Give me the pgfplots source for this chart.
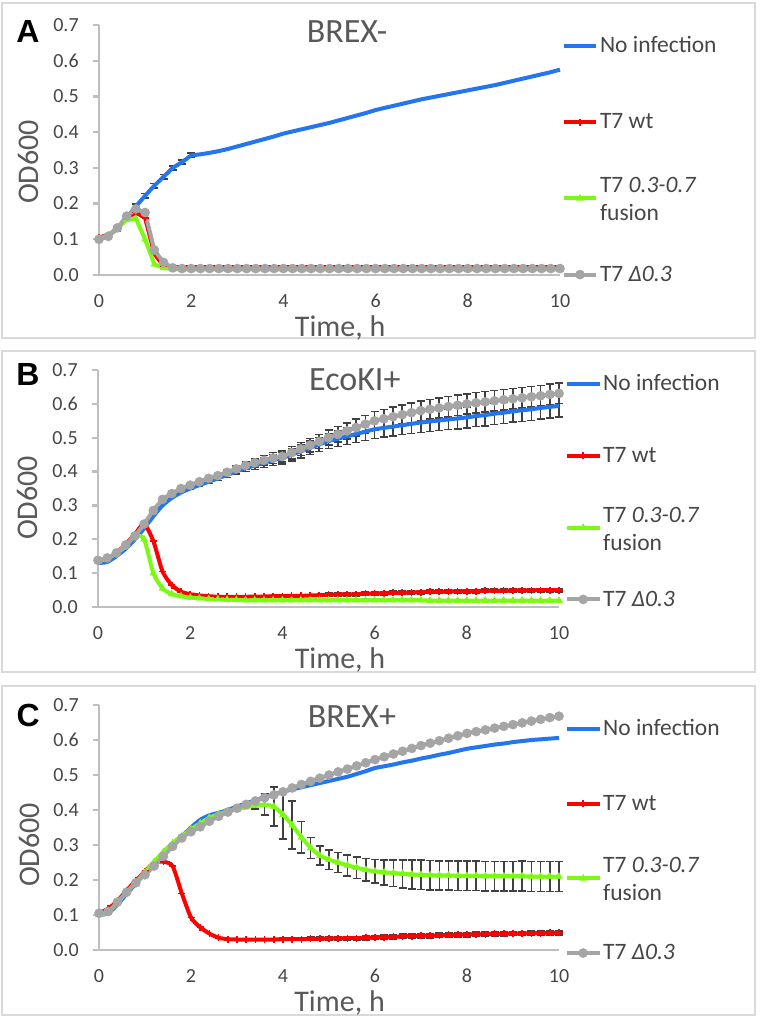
\documentclass[border=0pt]{standalone}
\usepackage{fontspec}
\setmainfont{Carlito}
\newfontfamily\arialfont{Liberation Sans}
\usepackage{pgfplots}
\pgfplotsset{compat=1.18}
\usepackage{pgfplotstable}

\definecolor{bluecol}{RGB}{36,118,240}
\definecolor{redcol}{RGB}{255,0,0}
\definecolor{greencol}{RGB}{125,250,20}
\definecolor{graycol}{RGB}{165,165,165}
\definecolor{errcol}{RGB}{64,64,64}
\definecolor{axisgray}{RGB}{191,191,191}
\definecolor{bordercol}{RGB}{217,217,217}
\definecolor{tickcol}{RGB}{70,70,70}
\definecolor{labcol}{RGB}{89,89,89}

\newcommand{\lgt}[1]{\raisebox{0pt}[15pt][0pt]{#1}}
\newcommand{\lgtwo}{\raisebox{-2.5pt}[15pt][0pt]{\begin{tabular}[c]{@{}l@{}}T7 \textit{0.3-0.7}\\fusion\end{tabular}}}
\tikzset{letter/.style={font=\arialfont\bfseries\fontsize{32pt}{38pt}\selectfont}}

% Panel A: t, blue, blue err, red, green, gray
\pgfplotstableread{
t b be r g k
0.0 0.100 0 0.105 0.100 0.100
0.2 0.110 0 0.112 0.112 0.108
0.4 0.130 0.006 0.130 0.130 0.132
0.6 0.160 0.006 0.160 0.155 0.165
0.8 0.192 0.006 0.175 0.158 0.185
1.0 0.222 0.006 0.160 0.100 0.175
1.2 0.250 0.006 0.060 0.030 0.070
1.4 0.275 0.006 0.025 0.020 0.035
1.6 0.300 0.006 0.022 0.017 0.020
1.8 0.316 0.006 0.022 0.016 0.018
2.0 0.335 0.006 0.022 0.016 0.018
2.2 0.338 0 0.022 0.016 0.018
2.4 0.342 0 0.022 0.016 0.018
2.6 0.347 0 0.022 0.016 0.018
2.8 0.353 0 0.022 0.016 0.018
3.0 0.360 0 0.022 0.016 0.018
3.2 0.367 0 0.022 0.016 0.018
3.4 0.374 0 0.022 0.016 0.018
3.6 0.381 0 0.022 0.016 0.018
3.8 0.388 0 0.022 0.016 0.018
4.0 0.396 0 0.022 0.016 0.018
4.2 0.402 0 0.022 0.016 0.018
4.4 0.408 0 0.022 0.016 0.018
4.6 0.414 0 0.022 0.016 0.018
4.8 0.420 0 0.022 0.016 0.018
5.0 0.426 0 0.022 0.016 0.018
5.2 0.433 0 0.022 0.016 0.018
5.4 0.440 0 0.022 0.016 0.018
5.6 0.447 0 0.022 0.016 0.018
5.8 0.454 0 0.022 0.016 0.018
6.0 0.462 0 0.022 0.016 0.018
6.2 0.468 0 0.022 0.016 0.018
6.4 0.474 0 0.022 0.016 0.018
6.6 0.480 0 0.022 0.016 0.018
6.8 0.486 0 0.022 0.016 0.018
7.0 0.492 0 0.022 0.016 0.018
7.2 0.497 0 0.022 0.016 0.018
7.4 0.502 0 0.022 0.016 0.018
7.6 0.507 0 0.022 0.016 0.018
7.8 0.512 0 0.022 0.016 0.018
8.0 0.517 0 0.022 0.016 0.018
8.2 0.522 0 0.022 0.016 0.018
8.4 0.527 0 0.022 0.016 0.018
8.6 0.532 0 0.022 0.016 0.018
8.8 0.538 0 0.022 0.016 0.018
9.0 0.544 0 0.022 0.016 0.018
9.2 0.550 0 0.022 0.016 0.018
9.4 0.556 0 0.022 0.016 0.018
9.6 0.562 0 0.022 0.016 0.018
9.8 0.568 0 0.022 0.016 0.018
10.0 0.575 0 0.022 0.016 0.018
}\dataA

% Panel B: t, blue, blue err, red, red err, green, gray, gray err
\pgfplotstableread{
t b be r re g k ke
0.0 0.130 0 0.135 0 0.135 0.138 0
0.2 0.133 0 0.143 0 0.143 0.145 0
0.4 0.150 0 0.160 0 0.158 0.160 0
0.6 0.172 0 0.185 0 0.180 0.183 0
0.8 0.200 0 0.215 0 0.210 0.210 0
1.0 0.232 0 0.245 0 0.200 0.245 0
1.2 0.268 0 0.195 0 0.100 0.285 0
1.4 0.300 0 0.105 0 0.055 0.318 0
1.6 0.322 0 0.065 0 0.038 0.335 0
1.8 0.338 0 0.045 0 0.032 0.350 0
2.0 0.350 0.003 0.038 0 0.028 0.360 0.003
2.2 0.360 0.004 0.034 0 0.026 0.370 0.004
2.4 0.370 0.005 0.032 0 0.024 0.380 0.005
2.6 0.380 0.006 0.030 0 0.023 0.388 0.006
2.8 0.390 0.007 0.030 0 0.022 0.398 0.007
3.0 0.400 0.008 0.030 0 0.021 0.408 0.008
3.2 0.410 0.010 0.030 0 0.020 0.418 0.010
3.4 0.418 0.012 0.031 0 0.020 0.426 0.012
3.6 0.426 0.014 0.031 0 0.020 0.433 0.014
3.8 0.434 0.016 0.032 0 0.020 0.440 0.016
4.0 0.440 0.017 0.032 0 0.020 0.445 0.017
4.2 0.450 0.018 0.033 0 0.020 0.456 0.018
4.4 0.460 0.019 0.033 0 0.020 0.467 0.019
4.6 0.470 0.020 0.034 0 0.020 0.478 0.020
4.8 0.480 0.021 0.035 0 0.020 0.489 0.021
5.0 0.490 0.022 0.036 0.005 0.020 0.500 0.022
5.2 0.497 0.023 0.037 0.005 0.020 0.510 0.023
5.4 0.504 0.024 0.037 0.005 0.020 0.520 0.024
5.6 0.511 0.025 0.038 0.005 0.020 0.530 0.025
5.8 0.518 0.026 0.039 0.005 0.020 0.540 0.026
6.0 0.525 0.027 0.040 0.005 0.020 0.550 0.027
6.2 0.529 0.027 0.041 0.005 0.020 0.556 0.027
6.4 0.533 0.028 0.042 0.005 0.020 0.562 0.028
6.6 0.537 0.028 0.042 0.005 0.020 0.568 0.028
6.8 0.541 0.029 0.043 0.005 0.020 0.574 0.029
7.0 0.545 0.029 0.044 0.005 0.020 0.580 0.029
7.2 0.548 0.030 0.045 0.005 0.019 0.584 0.029
7.4 0.551 0.030 0.045 0.005 0.019 0.588 0.029
7.6 0.554 0.030 0.046 0.005 0.019 0.592 0.030
7.8 0.557 0.031 0.046 0.005 0.019 0.596 0.030
8.0 0.560 0.031 0.047 0.005 0.019 0.600 0.030
8.2 0.564 0.031 0.047 0.005 0.019 0.603 0.030
8.4 0.567 0.032 0.048 0.005 0.019 0.606 0.030
8.6 0.571 0.032 0.048 0.005 0.019 0.609 0.030
8.8 0.574 0.032 0.048 0.005 0.019 0.612 0.030
9.0 0.578 0.032 0.049 0.005 0.019 0.615 0.030
9.2 0.581 0.033 0.049 0.005 0.019 0.618 0.030
9.4 0.584 0.033 0.049 0.005 0.019 0.621 0.030
9.6 0.588 0.033 0.050 0.005 0.019 0.624 0.030
9.8 0.591 0.033 0.050 0.005 0.019 0.628 0.030
10.0 0.594 0.033 0.050 0.005 0.019 0.631 0.030
}\dataB

% Panel C: t, blue, red, red err, green, green err, gray
\pgfplotstableread{
t b r re g ge k
0.0 0.100 0.105 0 0.100 0 0.105
0.2 0.105 0.118 0 0.108 0 0.110
0.4 0.130 0.140 0 0.135 0 0.137
0.6 0.160 0.170 0 0.165 0 0.165
0.8 0.190 0.198 0 0.193 0 0.192
1.0 0.220 0.225 0 0.222 0 0.215
1.2 0.250 0.250 0 0.252 0 0.240
1.4 0.280 0.252 0 0.280 0 0.268
1.6 0.305 0.240 0 0.305 0 0.296
1.8 0.325 0.162 0 0.325 0 0.320
2.0 0.350 0.093 0 0.345 0 0.338
2.2 0.372 0.065 0 0.362 0 0.352
2.4 0.385 0.047 0 0.378 0 0.368
2.6 0.392 0.035 0 0.388 0 0.382
2.8 0.400 0.031 0 0.396 0 0.394
3.0 0.410 0.030 0 0.402 0 0.405
3.2 0.419 0.030 0 0.408 0 0.416
3.4 0.428 0.030 0 0.413 0.010 0.426
3.6 0.437 0.030 0 0.415 0.030 0.435
3.8 0.445 0.030 0 0.410 0.055 0.443
4.0 0.452 0.031 0.004 0.387 0.070 0.452
4.2 0.459 0.031 0.004 0.357 0.068 0.463
4.4 0.465 0.031 0.004 0.322 0.045 0.473
4.6 0.471 0.032 0.005 0.292 0.030 0.482
4.8 0.477 0.032 0.005 0.270 0.027 0.491
5.0 0.483 0.033 0.005 0.258 0.028 0.500
5.2 0.489 0.033 0.005 0.250 0.029 0.509
5.4 0.495 0.034 0.005 0.242 0.030 0.517
5.6 0.503 0.034 0.005 0.235 0.031 0.526
5.8 0.511 0.035 0.006 0.229 0.032 0.535
6.0 0.520 0.036 0.006 0.225 0.034 0.544
6.2 0.525 0.037 0.006 0.222 0.036 0.552
6.4 0.530 0.038 0.006 0.220 0.038 0.560
6.6 0.536 0.039 0.006 0.218 0.040 0.568
6.8 0.541 0.040 0.006 0.216 0.041 0.576
7.0 0.547 0.041 0.006 0.215 0.042 0.584
7.2 0.552 0.041 0.006 0.214 0.042 0.591
7.4 0.558 0.042 0.006 0.213 0.042 0.598
7.6 0.563 0.043 0.006 0.213 0.042 0.605
7.8 0.569 0.044 0.006 0.212 0.042 0.612
8.0 0.575 0.044 0.006 0.212 0.042 0.619
8.2 0.579 0.045 0.006 0.212 0.042 0.624
8.4 0.583 0.045 0.006 0.211 0.042 0.629
8.6 0.587 0.046 0.006 0.211 0.042 0.634
8.8 0.590 0.046 0.006 0.211 0.042 0.639
9.0 0.594 0.047 0.006 0.211 0.042 0.644
9.2 0.597 0.047 0.006 0.211 0.043 0.649
9.4 0.600 0.048 0.006 0.210 0.043 0.654
9.6 0.602 0.048 0.006 0.210 0.043 0.659
9.8 0.604 0.049 0.006 0.210 0.043 0.664
10.0 0.606 0.049 0.006 0.210 0.043 0.668
}\dataC

\pgfplotsset{
  panel/.style={
    scale only axis, xmin=0, xmax=10, ymin=0, ymax=0.7, clip=false,
    axis lines=left,
    axis line style={draw=axisgray, line width=2.2pt, -},
    xtick={0,2,4,6,8,10},
    ytick={0,0.1,0.2,0.3,0.4,0.5,0.6,0.7},
    tick align=outside, major tick length=6pt,
    xtick style={draw=none},
    ytick style={draw=axisgray, line width=2.2pt},
    /pgf/number format/assume math mode=true,
    ticklabel style={font=\fontsize{20pt}{24pt}\selectfont, text=tickcol, inner sep=1pt},
    yticklabel style={/pgf/number format/fixed, /pgf/number format/fixed zerofill, /pgf/number format/precision=1, anchor=center, xshift=-27pt},
    xticklabel style={anchor=center, yshift=-20pt},
    xlabel={Time, h}, ylabel={OD600},
    label style={font=\fontsize{30pt}{35pt}\selectfont, text=labcol, inner sep=1pt},
    title style={font=\fontsize{34pt}{40pt}\selectfont, text=labcol, anchor=center, yshift=-9pt},
    legend cell align=left,
    legend style={draw=none, fill=none, anchor=north west, inner sep=0pt,
      font=\fontsize{23.5pt}{28pt}\selectfont, text=tickcol, nodes={inner sep=2pt}},
    legend image code/.code={\draw[mark repeat=2,mark phase=2] plot coordinates {(0pt,0pt) (16pt,0pt) (32pt,0pt)};},
  },
  blueS/.style={color=bluecol, line width=4pt, mark=none},
  redS/.style={color=redcol, line width=4pt, mark=+, mark size=3.5pt, mark options={line width=1.6pt, solid}},
  greenS/.style={color=greencol, line width=4pt, mark=triangle*, mark size=3.6pt, mark options={line width=0.8pt, solid}},
  grayS/.style={color=graycol, line width=4pt, mark=*, mark size=4.6pt, mark options={line width=0.4pt, solid}},
  errS/.style={draw=none, mark=none, forget plot,
    error bars/y dir=both, error bars/y explicit,
    error bars/error bar style={line width=1.6pt, draw=errcol},
    error bars/error mark options={rotate=90, mark size=4pt, line width=1.6pt, draw=errcol}},
}

\begin{document}
\begin{tikzpicture}
\path[use as bounding box, fill=white] (0pt,0pt) rectangle (761pt,-1017pt);
\draw[bordercol, line width=2.5pt] (2pt,-3pt) rectangle (755pt,-338pt);
\draw[bordercol, line width=2.5pt] (2pt,-351pt) rectangle (755pt,-672pt);
\draw[bordercol, line width=2.5pt] (2pt,-686pt) rectangle (755pt,-1015pt);

% ---------------- Panel A ----------------
\begin{axis}[panel, at={(99pt,-275pt)}, anchor=south west, width=461pt, height=250pt,
  title={BREX-}, title style={at={(axis description cs:0.538,0.984)}},
  ylabel style={at={(axis description cs:-0.152,0.452)}, anchor=center},
  xlabel style={at={(axis description cs:0.523,-0.212)}, anchor=center},
  legend style={at={(axis description cs:1.004,0.958)}, row sep=55.7pt}]
\addplot[restrict x to domain=0.3:2.1, errS] table[x=t, y=b, y error=be] {\dataA};
\addplot[blueS] table[x=t, y=b] {\dataA};
\addlegendentry{\lgt{No infection}}
\addplot[redS] table[x=t, y=r] {\dataA};
\addlegendentry{\lgt{T7 wt}}
\addplot[greenS] table[x=t, y=g] {\dataA};
\addlegendentry{\lgtwo}
\addplot[grayS] table[x=t, y=k] {\dataA};
\addlegendentry{\lgt{T7 \textit{Δ0.3}}}
\node[letter] at (axis description cs:-0.154,0.976) {A};
\end{axis}

% ---------------- Panel B ----------------
\begin{axis}[panel, at={(98pt,-607pt)}, anchor=south west, width=461pt, height=237pt,
  title={EcoKI+}, title style={at={(axis description cs:0.557,0.970)}},
  ylabel style={at={(axis description cs:-0.152,0.46)}, anchor=center},
  xlabel style={at={(axis description cs:0.525,-0.224)}, anchor=center},
  legend style={at={(axis description cs:1.013,0.985)}, row sep=51.3pt}]
\addplot[restrict x to domain=1.9:10.1, errS] table[x=t, y=b, y error=be] {\dataB};
\addplot[restrict x to domain=4.9:10.1, errS] table[x=t, y=r, y error=re] {\dataB};
\addplot[restrict x to domain=1.9:10.1, errS] table[x=t, y=k, y error=ke] {\dataB};
\addplot[blueS, smooth, tension=0.4] table[x=t, y=b] {\dataB};
\addlegendentry{\lgt{No infection}}
\addplot[redS, smooth, tension=0.4] table[x=t, y=r] {\dataB};
\addlegendentry{\lgt{T7 wt}}
\addplot[greenS, smooth, tension=0.4] table[x=t, y=g] {\dataB};
\addlegendentry{\lgtwo}
\addplot[grayS, smooth, tension=0.4] table[x=t, y=k] {\dataB};
\addlegendentry{\lgt{T7 \textit{Δ0.3}}}
\node[letter] at (axis description cs:-0.152,0.979) {B};
\end{axis}

% ---------------- Panel C ----------------
\begin{axis}[panel, at={(99pt,-950pt)}, anchor=south west, width=460pt, height=245pt,
  title={BREX+}, title style={at={(axis description cs:0.55,0.967)}},
  ylabel style={at={(axis description cs:-0.152,0.429)}, anchor=center},
  xlabel style={at={(axis description cs:0.523,-0.216)}, anchor=center},
  legend style={at={(axis description cs:1.013,0.945)}, row sep=54.2pt}]
\addplot[restrict x to domain=3.9:10.1, errS] table[x=t, y=r, y error=re] {\dataC};
\addplot[restrict x to domain=3.3:10.1, errS] table[x=t, y=g, y error=ge] {\dataC};
\addplot[blueS, smooth, tension=0.4] table[x=t, y=b] {\dataC};
\addlegendentry{\lgt{No infection}}
\addplot[redS, smooth, tension=0.4] table[x=t, y=r] {\dataC};
\addlegendentry{\lgt{T7 wt}}
\addplot[greenS, smooth, tension=0.4] table[x=t, y=g] {\dataC};
\addlegendentry{\lgtwo}
\addplot[grayS, smooth, tension=0.4] table[x=t, y=k] {\dataC};
\addlegendentry{\lgt{T7 \textit{Δ0.3}}}
\node[letter] at (axis description cs:-0.154,0.959) {C};
\end{axis}
\end{tikzpicture}
\end{document}
